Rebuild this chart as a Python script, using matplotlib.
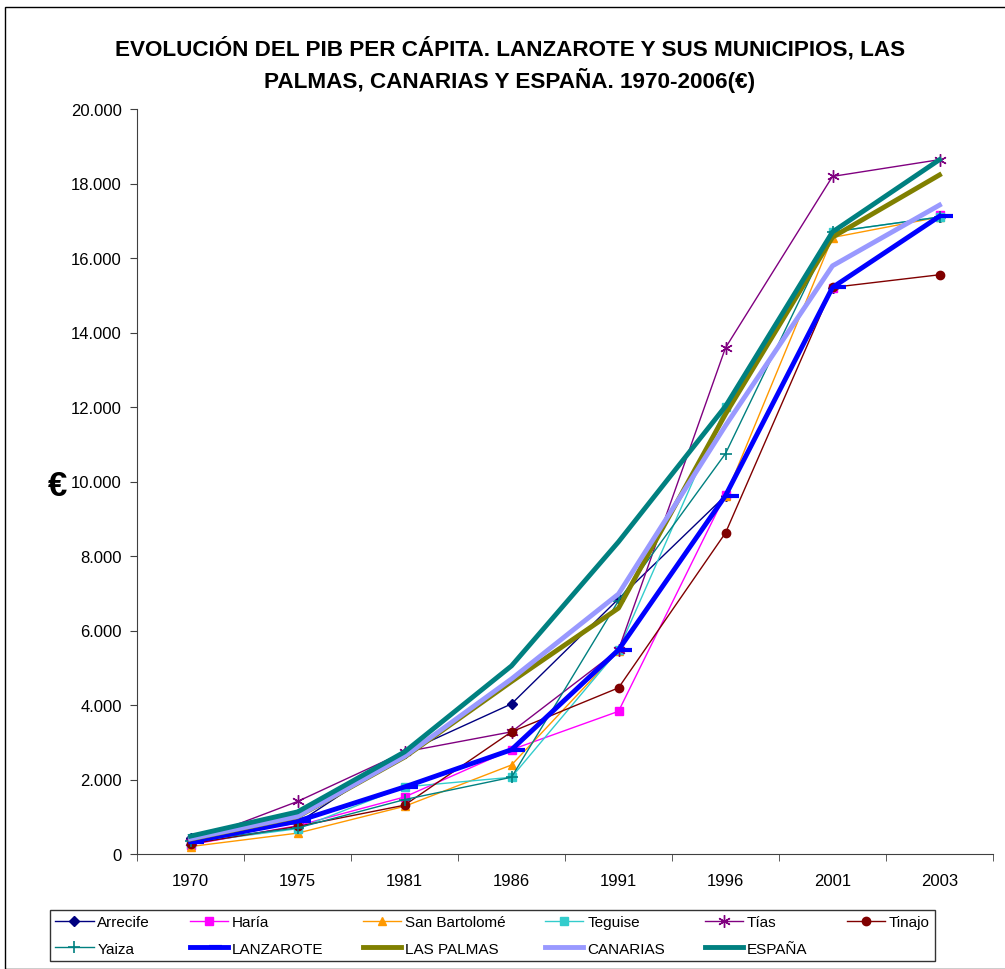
import numpy as np
import matplotlib.pyplot as plt
from matplotlib.patches import Rectangle
from matplotlib.path import Path
from matplotlib.ticker import FuncFormatter, FixedLocator

plt.rcParams['font.family'] = ['Liberation Sans', 'DejaVu Sans']

years = ['1970', '1975', '1981', '1986', '1991', '1996', '2001', '2003']

arrecife = [430, 830, 2720, 4030, 6850, 9620, 15200, 17100]
haria = [250, 760, 1530, 2800, 3830, 9650, 15200, 17150]
san_bartolome = [200, 560, 1280, 2390, 5450, 9600, 16550, 17100]
teguise = [300, 680, 1800, 2060, 5480, 11990, 16700, 17100]
tias = [320, 1410, 2740, 3280, 5480, 13590, 18190, 18640]
tinajo = [270, 740, 1310, 3280, 4460, 8620, 15210, 15550]
yaiza = [350, 700, 1460, 2060, 6800, 10750, 16700, 17100]
lanzarote = [330, 880, 1800, 2800, 5480, 9620, 15210, 17120]
las_palmas = [400, 1000, 2600, 4630, 6600, 11810, 16560, 18230]
canarias = [410, 1010, 2620, 4700, 6980, 11500, 15790, 17420]
espana = [480, 1130, 2740, 5050, 8380, 12020, 16700, 18640]

fig = plt.figure(figsize=(10.05, 9.70), dpi=100)
ax = fig.add_axes([137 / 1005, 1 - 855 / 970, (993 - 137) / 1005, (855 - 110) / 970])

x = np.arange(len(years))

# excel style dash marker, sticks out to the right of the point
dash = Path([(0, 0), (1, 0)])

thin = dict(lw=1.0, ms=6)
h_arr, = ax.plot(x, arrecife, color='#000080', marker='D', ms=5, lw=1.0, label='Arrecife')
h_har, = ax.plot(x, haria, color='#FF00FF', marker='s', label='Haría', **thin)
h_sb, = ax.plot(x, san_bartolome, color='#FF9900', marker='^', label='San Bartolomé', **thin)
h_teg, = ax.plot(x, teguise, color='#33CCCC', marker='s', label='Teguise', **thin)
h_tias, = ax.plot(x, tias, color='#800080', marker=(6, 2, 0), ms=9, mew=1.0, label='Tías', lw=1.0)
h_tin, = ax.plot(x, tinajo, color='#800000', marker='o', label='Tinajo', **thin)
h_yai, = ax.plot(x, yaiza, color='#008080', marker='+', ms=9, mew=1.2, label='Yaiza', lw=1.0)

h_lan, = ax.plot(x, lanzarote, color='#0000FF', lw=3.5, marker=dash, ms=18, mew=3, label='LANZAROTE')
h_lp, = ax.plot(x, las_palmas, color='#808000', lw=3.5, label='LAS PALMAS')
h_can, = ax.plot(x, canarias, color='#9999FF', lw=3.5, label='CANARIAS')
h_esp, = ax.plot(x, espana, color='#008080', lw=3.5, label='ESPAÑA')

ax.set_xlim(-0.5, len(years) - 0.5)
ax.set_ylim(0, 20000)
ax.set_yticks(np.arange(0, 20001, 2000))
ax.yaxis.set_major_formatter(FuncFormatter(lambda v, p: f'{int(v):,}'.replace(',', '.')))
ax.set_xticks(x)
ax.set_xticklabels(years)
ax.xaxis.set_minor_locator(FixedLocator(np.arange(-0.5, len(years), 1.0)))
ax.tick_params(axis='x', which='major', length=0, pad=14, labelsize=12)
ax.tick_params(axis='x', which='minor', length=5, direction='out', color='#404040')
ax.tick_params(axis='y', length=5, direction='out', labelsize=12, pad=6, color='#404040')
for s in ['top', 'right']:
    ax.spines[s].set_visible(False)
for s in ['left', 'bottom']:
    ax.spines[s].set_color('#404040')

fig.text(58 / 1005, 1 - 487 / 970, '€', fontsize=25, fontweight='bold', ha='center', va='center')

fig.text(510 / 1005, 1 - 65 / 970,
         'EVOLUCIÓN DEL PIB PER CÁPITA. LANZAROTE Y SUS MUNICIPIOS, LAS\nPALMAS, CANARIAS Y ESPAÑA. 1970-2006(€)',
         fontsize=16.2, fontweight='bold', ha='center', va='center', linespacing=1.4)

handles = [h_arr, h_yai, h_har, h_lan, h_sb, h_lp, h_teg, h_can, h_tias, h_esp, h_tin]
leg = fig.legend(handles=handles, labels=[h.get_label() for h in handles], ncol=6,
                 loc='upper left', bbox_to_anchor=(50 / 1005, 1 - 968 / 970, (935 - 50) / 1005, 57 / 970),
                 mode='expand', fontsize=11, frameon=True, fancybox=False, borderaxespad=0,
                 borderpad=0.35, handlelength=2.5, handletextpad=0.25, columnspacing=1.0,
                 labelspacing=0.8)
leg.get_frame().set_edgecolor('black')
leg.get_frame().set_linewidth(1.0)

fig.patches.append(Rectangle((5 / 1005, 0), 1, 1 - 8 / 970, transform=fig.transFigure,
                             fill=False, edgecolor='black', lw=1.0))

fig.savefig('out.png', dpi=100)
